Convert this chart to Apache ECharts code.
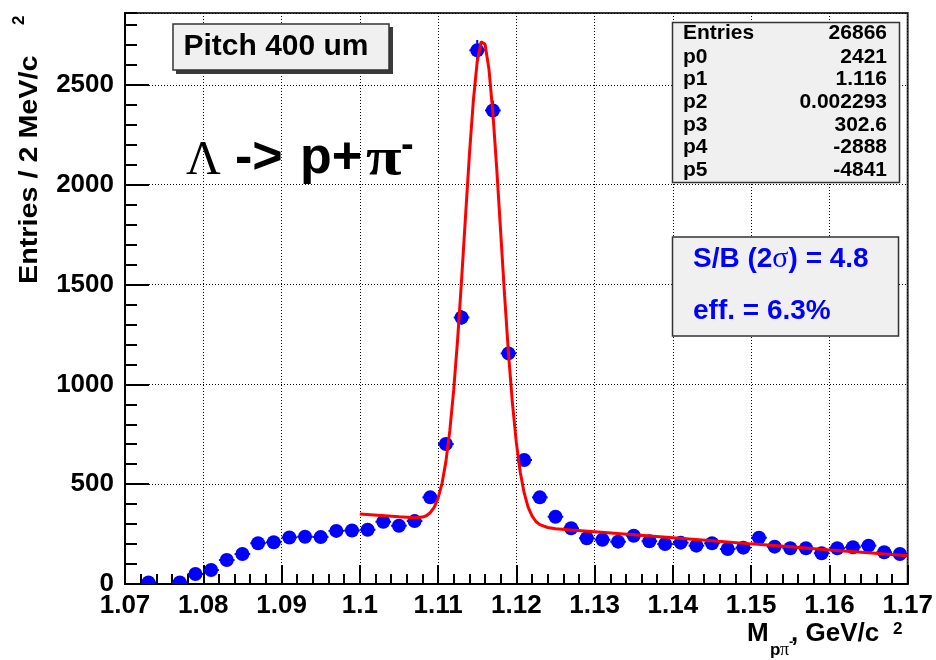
<!DOCTYPE html>
<html>
<head>
<meta charset="utf-8">
<script src="https://cdn.jsdelivr.net/npm/echarts@6/dist/echarts.min.js"></script>
<style>
  html, body { margin: 0; padding: 0; background: #ffffff; }
  #chart { width: 936px; height: 660px; }
</style>
</head>
<body>
<div id="chart"></div>
<script>
// p pi- invariant mass histogram, 2 MeV bins (bin centres in GeV/c^2)
const massBins = [
  1.073, 1.077, 1.079, 1.081, 1.083, 1.085, 1.087, 1.089, 1.091, 1.093,
  1.095, 1.097, 1.099, 1.101, 1.103, 1.105, 1.107, 1.109, 1.111, 1.113,
  1.115, 1.117, 1.119, 1.121, 1.123, 1.125, 1.127, 1.129, 1.131, 1.133,
  1.135, 1.137, 1.139, 1.141, 1.143, 1.145, 1.147, 1.149, 1.151, 1.153,
  1.155, 1.157, 1.159, 1.161, 1.163, 1.165, 1.167, 1.169
];
const binEntries = [
  8, 8, 50, 70, 120, 150, 204, 209, 233, 237,
  235, 266, 268, 272, 312, 292, 315, 434, 701, 1335,
  2673, 2372, 1155, 621, 434, 337, 279, 229, 222, 212,
  242, 214, 200, 207, 192, 204, 175, 182, 232, 187,
  179, 179, 154, 179, 184, 192, 159, 150
];

// Gaussian + quadratic background fit, sampled along the fit range
const fitMass = [
  1.100, 1.105, 1.107, 1.108, 1.1085, 1.109, 1.1095, 1.110, 1.1105, 1.111,
  1.1115, 1.112, 1.1125, 1.113, 1.1135, 1.114, 1.1145, 1.115, 1.1155, 1.1157,
  1.116, 1.1165, 1.117, 1.1175, 1.118, 1.1185, 1.119, 1.1195, 1.120, 1.1205,
  1.121, 1.1215, 1.122, 1.1225, 1.123, 1.124, 1.125, 1.127, 1.130, 1.135,
  1.140, 1.145, 1.150, 1.155, 1.160, 1.165, 1.170
];
const fitValue = [
  351, 337, 332, 335, 342, 357, 384, 430, 503, 613,
  768, 973, 1227, 1522, 1838, 2148, 2418, 2616, 2716, 2724,
  2703, 2579, 2361, 2077, 1761, 1444, 1153, 906, 708, 560,
  456, 385, 341, 313, 297, 283, 277, 270, 262, 247,
  232, 217, 201, 186, 170, 156, 141
];

// Fit statistics panel
const statNames  = ['Entries', 'p0', 'p1', 'p2', 'p3', 'p4', 'p5'];
const statValues = ['26866', '2421', '1.116', '0.002293', '302.6', '-2888', '-4841'];

const SANS = '"Liberation Sans", Arial, Helvetica, sans-serif';
const SERIF = '"Liberation Serif", "Times New Roman", serif';
const BLUE = '#0000ff';

const chart = echarts.init(document.getElementById('chart'), null, { renderer: 'canvas' });

const points = massBins.map((m, i) => [m, binEntries[i]]);
const fitLine = fitMass.map((m, i) => [m, fitValue[i]]);

const graphics = [];

// "Pitch 400 um" label box with drop shadow
graphics.push(
  { type: 'rect', shape: { x: 176, y: 27, width: 217, height: 47 }, style: { fill: '#3a3a3a' }, z: 10 },
  { type: 'rect', shape: { x: 173, y: 24, width: 216, height: 46 }, style: { fill: '#f0f0f0', stroke: '#333333', lineWidth: 1.5 }, z: 11 },
  { type: 'text', x: 276, y: 47, style: { text: 'Pitch 400 um', font: 'bold 30px ' + SANS, fill: '#000', align: 'center', verticalAlign: 'middle' }, z: 12 }
);

// Decay label
graphics.push(
  { type: 'text', x: 186, y: 161, style: { text: 'Λ', font: '48px ' + SERIF, fill: '#000', align: 'left', verticalAlign: 'middle' }, z: 12 },
  { type: 'text', x: 235, y: 159, style: { text: '->', font: 'bold 52px ' + SANS, fill: '#000', align: 'left', verticalAlign: 'middle' }, z: 12 },
  { type: 'text', x: 300, y: 159, style: { text: 'p+', font: 'bold 52px ' + SANS, fill: '#000', align: 'left', verticalAlign: 'middle' }, z: 12 },
  { type: 'text', x: 366, y: 161, scaleX: 1.25, style: { text: 'π', font: 'bold 52px ' + SERIF, fill: '#000', align: 'left', verticalAlign: 'middle' }, z: 12 },
  { type: 'text', x: 401, y: 147, style: { text: '-', font: 'bold 38px ' + SANS, fill: '#000', align: 'left', verticalAlign: 'middle' }, z: 12 }
);

// Fit statistics box
graphics.push(
  { type: 'rect', shape: { x: 672.5, y: 22.5, width: 227, height: 160 }, style: { fill: '#f0f0f0', stroke: '#333333', lineWidth: 1.5 }, z: 10 }
);
const rowY = [33.5, 57.5, 79.5, 102.5, 125, 147.5, 170];
statNames.forEach((name, i) => {
  graphics.push(
    { type: 'text', x: 683, y: rowY[i], style: { text: name, font: 'bold 21px ' + SANS, fill: '#000', align: 'left', verticalAlign: 'middle' }, z: 12 },
    { type: 'text', x: 887, y: rowY[i], style: { text: statValues[i], font: 'bold 21px ' + SANS, fill: '#000', align: 'right', verticalAlign: 'middle' }, z: 12 }
  );
});

// Signal / background box
graphics.push(
  { type: 'rect', shape: { x: 672.5, y: 237, width: 226, height: 99 }, style: { fill: '#f0f0f0', stroke: '#333333', lineWidth: 1.5 }, z: 10 },
  {
    type: 'text', x: 693, y: 259,
    style: {
      text: '{a|S/B (2}{s|σ}{a|) = 4.8}',
      rich: {
        a: { font: 'bold 28px ' + SANS, fill: BLUE },
        s: { font: '30px ' + SERIF, fill: BLUE }
      },
      align: 'left', verticalAlign: 'middle'
    }, z: 12
  },
  { type: 'text', x: 693, y: 311, style: { text: 'eff. = 6.3%', font: 'bold 28px ' + SANS, fill: BLUE, align: 'left', verticalAlign: 'middle' }, z: 12 }
);

// Y axis title (rotated, reads bottom to top)
graphics.push(
  { type: 'text', x: 30, y: 284, rotation: Math.PI / 2, scaleX: 1.15, style: { text: 'Entries / 2 MeV/c', font: 'bold 25px ' + SANS, fill: '#000', align: 'left', verticalAlign: 'middle' }, z: 12 },
  { type: 'text', x: 19, y: 25, rotation: Math.PI / 2, style: { text: '2', font: 'bold 17px ' + SANS, fill: '#000', align: 'left', verticalAlign: 'middle' }, z: 12 }
);

// X axis title with sub/superscripts
graphics.push(
  { type: 'text', x: 747, y: 634, style: { text: 'M', font: 'bold 26px ' + SANS, fill: '#000', align: 'left', verticalAlign: 'middle' }, z: 12 },
  { type: 'text', x: 770, y: 650, style: { text: 'p', font: 'bold 17px ' + SANS, fill: '#000', align: 'left', verticalAlign: 'middle' }, z: 12 },
  { type: 'text', x: 780, y: 650, style: { text: 'π', font: '18px ' + SERIF, fill: '#000', align: 'left', verticalAlign: 'middle' }, z: 12 },
  { type: 'text', x: 789, y: 642, style: { text: '-', font: 'bold 13px ' + SANS, fill: '#000', align: 'left', verticalAlign: 'middle' }, z: 12 },
  { type: 'text', x: 791, y: 634, style: { text: ', GeV/c', font: 'bold 26px ' + SANS, fill: '#000', align: 'left', verticalAlign: 'middle' }, z: 12 },
  { type: 'text', x: 893, y: 629, style: { text: '2', font: 'bold 17px ' + SANS, fill: '#000', align: 'left', verticalAlign: 'middle' }, z: 12 }
);

const gridLine = { show: true, lineStyle: { color: '#000', width: 1, type: [1, 2] } };

const option = {
  backgroundColor: '#ffffff',
  animation: false,
  grid: {
    left: 125, right: 28, top: 13, bottom: 76,
    show: true, borderColor: '#333333', borderWidth: 2, backgroundColor: 'transparent'
  },
  xAxis: {
    type: 'value', min: 1.07, max: 1.17, interval: 0.01,
    axisLine: { show: true, onZero: false, lineStyle: { color: '#000', width: 2 } },
    axisTick: { show: true, inside: true, length: 19, lineStyle: { color: '#000', width: 2 } },
    minorTick: { show: true, splitNumber: 5, length: 10, lineStyle: { color: '#000', width: 2 } },
    splitLine: gridLine,
    axisLabel: {
      margin: 9, color: '#000', fontFamily: SANS, fontWeight: 'bold', fontSize: 26,
      formatter: v => String(parseFloat(v.toFixed(3)))
    }
  },
  yAxis: [
    {
      type: 'value', min: 0, max: 2860, interval: 500,
      axisLine: { show: true, lineStyle: { color: '#000', width: 2 } },
      axisTick: { show: true, inside: true, length: 24, lineStyle: { color: '#000', width: 2 } },
      minorTick: { show: false },
      splitLine: gridLine,
      axisLabel: {
        margin: 11, color: '#000', fontFamily: SANS, fontWeight: 'bold', fontSize: 26,
        showMaxLabel: false,
        formatter: v => (Math.round(v) % 500 === 0 ? String(Math.round(v)) : '')
      }
    },
    {
      // minor ticks every 100 entries
      type: 'value', min: 0, max: 2860, interval: 100, position: 'left',
      axisLine: { show: false },
      axisTick: { show: true, inside: true, length: 12, lineStyle: { color: '#000', width: 2 } },
      splitLine: { show: false },
      axisLabel: { show: false }
    }
  ],
  series: [
    {
      type: 'custom',
      name: 'data',
      data: points,
      z: 3,
      clip: true,
      renderItem: function (params, api) {
        const x = api.value(0), y = api.value(1);
        const c = api.coord([x, y]);
        const l = api.coord([x - 0.001, y]);
        const r = api.coord([x + 0.001, y]);
        const err = Math.sqrt(y);
        const t = api.coord([x, y + err]);
        const b = api.coord([x, y - err]);
        return {
          type: 'group',
          children: [
            { type: 'line', shape: { x1: l[0], y1: c[1], x2: r[0], y2: c[1] }, style: { stroke: BLUE, lineWidth: 2 } },
            { type: 'line', shape: { x1: c[0], y1: t[1], x2: c[0], y2: b[1] }, style: { stroke: BLUE, lineWidth: 2 } },
            { type: 'circle', shape: { cx: c[0], cy: c[1], r: 7 }, style: { fill: BLUE } }
          ]
        };
      }
    },
    {
      type: 'line',
      name: 'fit',
      data: fitLine,
      showSymbol: false,
      smooth: false,
      z: 4,
      lineStyle: { color: '#ff0000', width: 3 }
    }
  ],
  graphic: graphics
};

chart.setOption(option);
</script>
</body>
</html>
